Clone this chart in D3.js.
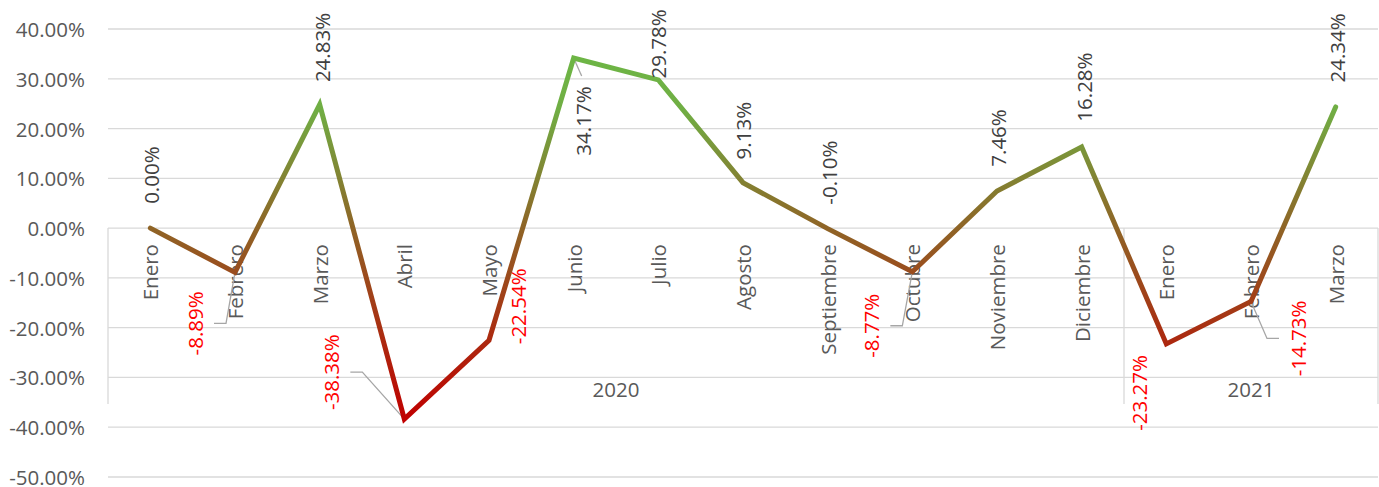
<!DOCTYPE html>
<meta charset="utf-8">
<style>
    body { margin: 0; background: #fff; }
    text { font-family: "Open Sans", sans-serif; }
    .grid line { stroke: #d9d9d9; stroke-width: 1.3px; }
    .sep line { stroke: #d9d9d9; stroke-width: 1.3px; }
    .leader { fill: none; stroke: #a6a6a6; stroke-width: 1.3px; }
</style>
<svg width="1379" height="487"></svg>
<script src="https://d3js.org/d3.v7.min.js"></script>
<script>
    // months, two levels: month + year group
    var categories = ["Enero", "Febrero", "Marzo", "Abril", "Mayo", "Junio", "Julio", "Agosto",
        "Septiembre", "Octubre", "Noviembre", "Diciembre", "Enero", "Febrero", "Marzo"];
    var groupLabels = ["2020", "2021"];
    var groupSizes = [12, 3];

    // monthly variation, in %
    var values = [0.00, -8.89, 24.83, -38.38, -22.54, 34.17, 29.78, 9.13,
        -0.10, -8.77, 7.46, 16.28, -23.27, -14.73, 24.34];

    var yTicks = [40, 30, 20, 10, 0, -10, -20, -30, -40, -50];

    // data label nudges (px) relative to each point, as placed in the original
    var labelNudge = [[1, -53], [-40, 51], [2, -57], [-73, -47], [29, -34], [9, 63], [0, -36],
        [0, -52], [1, -56], [-41, 54], [1, -53], [2, -60], [-27, 49], [47, 37], [1, -59]];
    // leader lines: category index -> side of label it leaves from
    var leaders = {1: 1, 3: 1, 5: 0, 9: 1, 13: -1};

    var svg = d3.select("svg"),
        width = +svg.attr("width"),
        height = +svg.attr("height");

    // note: "top" is taken by window.top, so plot_* names
    var plot_left = 108, plot_right = 1378, plot_top = 29, plot_bottom = 477;

    var x = d3.scaleBand().domain(d3.range(categories.length)).range([plot_left, plot_right]);
    var y = d3.scaleLinear().domain([-50, 40]).range([plot_bottom, plot_top]);
    var cx = function (i) { return x(i) + x.bandwidth() / 2; };
    var fmt = function (v) { return v.toFixed(2) + "%"; };

    // gradient along the value axis: green high, brown around zero, red low
    var vmax = d3.max(values), vmin = d3.min(values);
    var grad = svg.append("defs").append("linearGradient")
        .attr("id", "lineGrad")
        .attr("gradientUnits", "userSpaceOnUse")
        .attr("x1", 0).attr("x2", 0)
        .attr("y1", y(vmax)).attr("y2", y(vmin));
    [[vmax, "#6db545"], [24, "#70ae44"], [0, "#8f6426"], [vmin, "#c00000"]]
        .forEach(function (s) {
            grad.append("stop")
                .attr("offset", (vmax - s[0]) / (vmax - vmin))
                .attr("stop-color", s[1]);
        });

    // gridlines
    svg.append("g").attr("class", "grid")
        .selectAll("line").data(yTicks).enter().append("line")
        .attr("x1", plot_left).attr("x2", plot_right)
        .attr("y1", function (d) { return y(d); })
        .attr("y2", function (d) { return y(d); });

    // value axis labels
    svg.append("g").selectAll("text").data(yTicks).enter().append("text")
        .attr("x", 85).attr("y", function (d) { return y(d); })
        .attr("text-anchor", "end").attr("dominant-baseline", "central")
        .style("font-size", "20.5px").style("fill", "#595959")
        .text(fmt);

    // group separators and year labels
    var bounds = [0];
    groupSizes.forEach(function (n, i) { bounds.push(bounds[i] + n); });
    var boundX = bounds.map(function (b) { return b < categories.length ? x(b) : plot_right; });

    svg.append("g").attr("class", "sep")
        .selectAll("line").data(boundX).enter().append("line")
        .attr("x1", function (d) { return d; }).attr("x2", function (d) { return d; })
        .attr("y1", y(0)).attr("y2", 404);

    svg.append("g").selectAll("text").data(groupLabels).enter().append("text")
        .attr("x", function (d, i) { return (boundX[i] + boundX[i + 1]) / 2; })
        .attr("y", 389)
        .attr("text-anchor", "middle").attr("dominant-baseline", "central")
        .style("font-size", "20.5px").style("fill", "#595959")
        .text(function (d) { return d; });

    // month labels, rotated
    svg.append("g").selectAll("text").data(categories).enter().append("text")
        .attr("transform", function (d, i) { return "translate(" + cx(i) + "," + (y(0) + 16) + ") rotate(-90)"; })
        .attr("text-anchor", "end").attr("dominant-baseline", "central")
        .style("font-size", "20.5px").style("fill", "#595959")
        .text(function (d) { return d; });

    // leader lines
    Object.keys(leaders).forEach(function (k) {
        var i = +k, side = leaders[k];
        var px = cx(i), py = y(values[i]);
        var lx = px + labelNudge[i][0], ly = py + labelNudge[i][1];
        var pts = side === 0
            ? [[px, py], [px + 8, py + 18]]
            : [[lx + side * 19, ly], [lx + side * 31, ly], [px, py]];
        svg.append("path").attr("class", "leader").attr("d", d3.line()(pts));
    });

    // the line
    svg.append("path")
        .datum(values)
        .attr("fill", "none")
        .attr("stroke", "url(#lineGrad)")
        .attr("stroke-width", 5)
        .attr("stroke-linecap", "round")
        .attr("stroke-linejoin", "miter")
        .attr("d", d3.line()
            .x(function (d, i) { return cx(i); })
            .y(function (d) { return y(d); }));

    // data labels, rotated; negatives in red except the near-zero one
    svg.append("g").selectAll("text").data(values).enter().append("text")
        .attr("transform", function (d, i) {
            return "translate(" + (cx(i) + labelNudge[i][0]) + "," + (y(d) + labelNudge[i][1]) + ") rotate(-90)";
        })
        .attr("text-anchor", "middle").attr("dominant-baseline", "central")
        .style("font-size", "20.5px")
        .style("fill", function (d) { return d <= -1 ? "#ff0000" : "#404040"; })
        .text(fmt);
</script>
